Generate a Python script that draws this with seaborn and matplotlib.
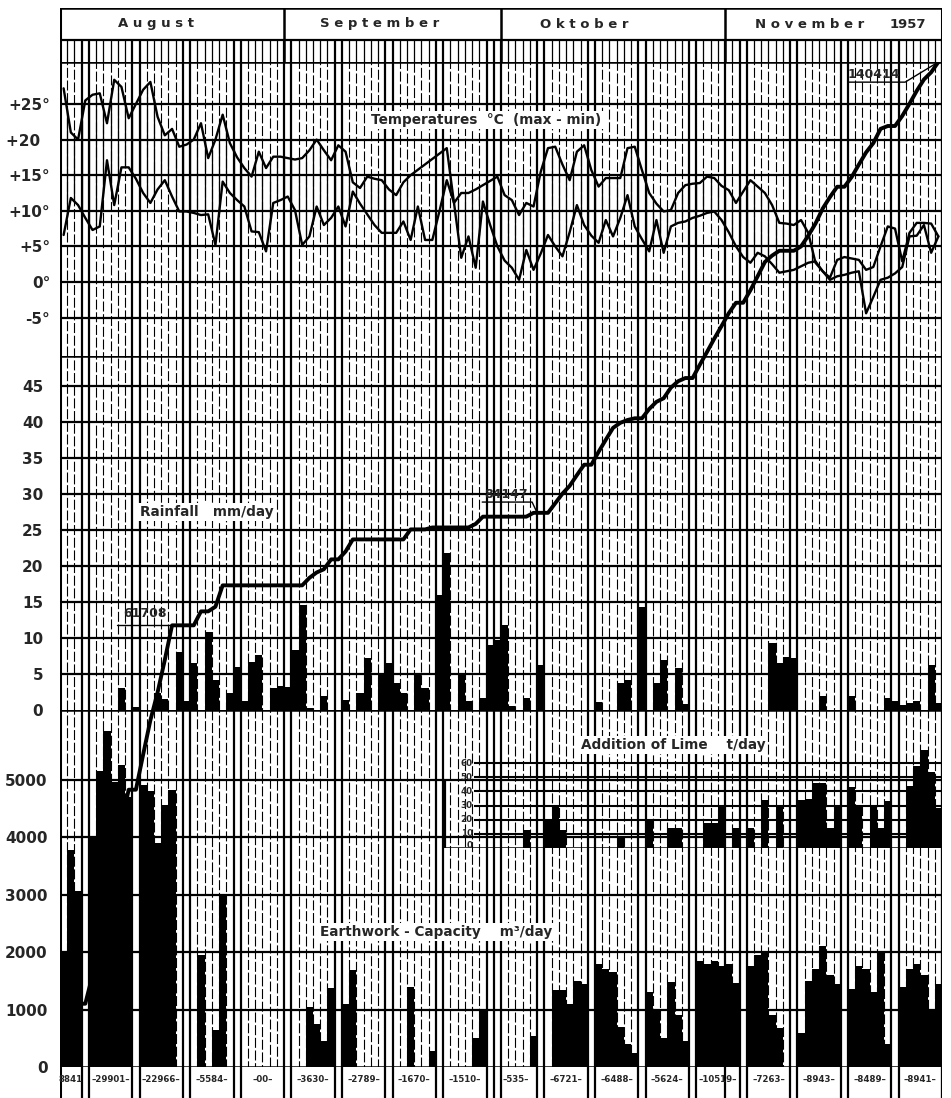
import numpy as np
import pandas as pd
import matplotlib
matplotlib.use("Agg")
import matplotlib.pyplot as plt
import seaborn as sns

# ---------------------------------------------------------------- calendar
months = ["August", "September", "Oktober", "November"]
month_lengths = [31, 30, 31, 30]
year_text = "1957"
first_sunday = 3          # 4 Aug 1957 (0 = 1 Aug)

# ------------------------------------------------ daily temperatures (°C)
t_max = [27.2, 21.0, 20.0, 25.5, 26.3, 26.5, 22.3, 28.4, 27.4, 23.0,
         25.0, 27.0, 28.1, 23.2, 20.6, 21.5, 19.0, 19.3, 20.0, 22.3,
         17.4, 20.0, 23.5, 19.5, 17.5, 16.0, 14.8, 18.3, 16.0, 17.6,
         17.6, 17.4, 17.2, 17.4, 18.5, 20.0, 18.5, 17.1, 19.2, 18.3,
         14.0, 13.2, 14.8, 14.5, 14.3, 13.0, 12.2, 14.0, 15.0, np.nan,
         np.nan, np.nan, np.nan, 18.8, 11.1, 12.5, 12.5, 13.0, 13.6, 14.2,
         14.8, 12.2, 11.5, 9.4, 11.1, 10.6, 15.5, 18.8, 19.0, 16.5,
         14.3, 18.3, 19.2, 15.7, 13.4, 14.6, 14.6, 14.6, 18.8, 19.0,
         15.7, 12.5, 11.0, 9.9, 10.1, 12.5, 13.6, 13.8, 13.9, 14.8,
         14.6, 13.5, 12.9, 11.1, 12.7, 14.3, 13.4, 12.5, 10.8, 8.3,
         8.2, 8.0, 8.7, 6.9, 2.7, 1.5, 0.6, 3.1, 3.5, 3.3,
         3.1, 1.7, 2.1, 5.0, 7.8, 7.5, 2.9, 6.9, 8.3, 8.3,
         8.2, 6.4]
t_min = [6.6, 11.8, 10.8, 9.0, 7.3, 7.8, 17.1, 10.8, 16.1, 16.1,
         14.5, 12.5, 11.1, 13.0, 14.3, 12.0, 9.9, 9.9, 9.7, 9.4,
         9.5, 5.2, 14.1, 12.5, 11.5, 10.6, 7.1, 7.0, 4.3, 11.1,
         11.5, 12.0, 10.1, 5.2, 6.4, 10.6, 8.0, 9.0, 10.6, 7.8,
         12.7, 11.0, 9.5, 8.0, 6.9, 6.9, 6.9, 8.5, 5.9, 10.6,
         5.9, 5.9, 10.0, 14.3, 11.1, 3.4, 6.4, 2.0, 11.3, 8.0,
         5.0, 3.0, 2.0, 0.3, 4.5, 1.7, 4.0, 6.6, 5.0, 3.6,
         7.0, 10.8, 8.0, 6.5, 5.5, 8.7, 6.4, 9.0, 12.2, 7.8,
         6.0, 4.3, 8.7, 4.1, 7.8, 8.3, 8.5, 9.0, 9.3, 9.7,
         9.9, 8.7, 7.0, 5.0, 3.5, 2.7, 4.1, 3.6, 2.5, 1.3,
         1.5, 1.7, 2.2, 2.7, 2.9, 1.5, 0.3, 0.8, 1.0, 1.3,
         1.5, -4.4, -2.1, 0.3, 0.6, 1.2, 2.1, 6.4, 6.5, 8.0,
         4.1, 6.4]

# --------------------------------------------------- daily rainfall (mm)
rain_mm = [0, 0, 0, 0, 0, 0, 0, 0, 3.0, 0,
           0.4, 0, 0, 2.3, 1.5, 0, 8.0, 1.3, 6.6, 0,
           10.9, 4.2, 0, 2.3, 6.0, 1.3, 6.7, 7.6, 0, 3.0,
           3.4, 3.2, 8.3, 14.6, 0.3, 0, 2.0, 0, 0, 1.4,
           0, 2.3, 7.2, 0, 4.9, 6.5, 3.8, 2.3, 0, 5.1,
           3.0, 0, 16.0, 21.8, 0, 5.1, 1.3, 0, 1.6, 9.0,
           9.7, 11.8, 0.5, 0, 1.6, 0, 6.2, 0, 0, 0,
           0, 0, 0, 0, 1.1, 0, 0, 3.7, 4.2, 0,
           14.3, 0, 3.7, 6.9, 0, 5.8, 0.8, 0, 0, 0,
           0, 0, 0, 0, 0, 0, 0, 0, 9.3, 6.5,
           7.4, 7.2, 0, 0, 0, 2.0, 0, 0, 0, 1.9,
           0, 0, 0, 0, 1.6, 1.3, 0.7, 1.0, 1.2, 0,
           6.2, 1.0]

# ----------------------------------------- daily earthwork output (m³)
earthwork_m3 = [2000, 3780, 3061, 0, 4000, 5150, 5850, 4950, 5250, 4701,
                0, 4900, 4800, 3900, 4550, 4816, 0, 0, 0, 1950,
                0, 650, 2984, 0, 0, 0, 0, 0, 0, 0,
                0, 0, 0, 0, 1050, 750, 450, 1380, 0, 1100,
                1689, 0, 0, 0, 0, 0, 0, 0, 1400, 0,
                0, 270, 0, 0, 0, 0, 0, 500, 1010, 0,
                0, 0, 0, 0, 0, 535, 0, 0, 1340, 1340,
                1090, 1500, 1451, 0, 1800, 1700, 1650, 700, 400, 238,
                0, 1300, 1000, 500, 1480, 900, 444, 0, 1850, 1800,
                1850, 1750, 1800, 1469, 0, 1750, 1950, 1990, 900, 673,
                0, 0, 600, 1500, 1700, 2100, 1600, 1443, 0, 1350,
                1750, 1700, 1300, 1989, 400, 0, 1400, 1700, 1800, 1600,
                1000, 1441]

# --------------------------------------------- daily lime addition (t)
lime_t = [0] * 64 + [13, 0, 0, 20, 29, 13, 0, 0, 0, 0,
                     0, 0, 0, 7, 0, 0, 0, 20, 0, 0,
                     14, 14, 0, 0, 0, 18, 18, 29, 0, 14,
                     0, 14, 0, 34, 0, 30, 0, 0, 34, 35,
                     46, 46, 14, 30, 0, 43, 29, 0, 29, 14,
                     33, 0, 0, 44, 58, 69, 54, 28]

# ---------------------------------------------------------------- setup
sns.set_theme(style="white")
plt.rcParams["font.family"] = ["DejaVu Sans"]
plt.rcParams["font.weight"] = "bold"

n_days = sum(month_lengths)
df = pd.DataFrame({
    "day": np.arange(n_days) + 0.5,
    "t_max": t_max, "t_min": t_min,
    "rain": rain_mm, "earth": earthwork_m3, "lime": lime_t[:n_days],
})
df["cumulative"] = df["earth"].cumsum()

W, H = 951, 1098
fig = plt.figure(figsize=(W / 100, H / 100), dpi=100)


def rect(x0, y0, x1, y1):
    return [x0 / W, 1 - y1 / H, (x1 - x0) / W, (y1 - y0) / H]


X0, X1 = 60, 942
Y_TOP, Y_T, Y_R, Y_E, Y_B = 8, 62, 356, 710, 1067

ax_h = fig.add_axes(rect(X0, Y_TOP, X1, Y_T))
ax_t = fig.add_axes(rect(X0, Y_T, X1, Y_R))
ax_r = fig.add_axes(rect(X0, Y_R, X1, Y_E))
ax_e = fig.add_axes(rect(X0, Y_E, X1, Y_B))
ax_w = fig.add_axes(rect(X0, Y_B, X1, H + 2))
ax_l = fig.add_axes(rect(X0, 749, X1, 848))
ax_c = fig.add_axes(rect(X0, Y_T, X1, Y_B))

for ax in (ax_h, ax_t, ax_r, ax_e, ax_w, ax_l, ax_c):
    ax.set_xlim(0, n_days)
    ax.set_facecolor("none")
    for s in ax.spines.values():
        s.set_visible(False)
    ax.set_xticks([])

sundays = list(range(first_sunday, n_days, 7))
month_edges = list(np.cumsum([0] + month_lengths))
heavy_x = sorted(set([e for s in sundays for e in (s, s + 1)]) | set(month_edges))
light_x = [d for d in range(n_days + 1) if d not in heavy_x]


def day_grid(ax, lo=0.0, hi=1.0):
    tr = ax.get_xaxis_transform()
    for k, d in enumerate(light_x):
        ax.vlines(d, lo, hi, transform=tr, colors="black", lw=0.8,
                  linestyles=[(k % 5 * 1.7, (9, 2.4))], zorder=1)
    ax.vlines(heavy_x, lo, hi, transform=tr, colors="black", lw=1.6, zorder=1)


def hlines(ax, values, lw=1.6):
    for v in values:
        ax.axhline(v, color="black", lw=lw, zorder=1)


# ------------------------------------------------------------ header
ax_h.set_ylim(54, 0)
ax_h.set_yticks([])
ax_h.axhline(0, color="black", lw=1.8)
ax_h.axhline(32, color="black", lw=1.6)
ax_h.vlines(month_edges, 0, 54, colors="black", lw=1.8)
ax_h.vlines(light_x, 32, 54, colors="black", lw=0.9)
ax_h.vlines(heavy_x, 32, 54, colors="black", lw=1.6)
month_text_start = [8.0, 36.0, 66.4, 96.1]
for name, x in zip(months, month_text_start):
    ax_h.text(x, 16, " ".join(name), fontsize=9.5, ha="left", va="center")
ax_h.text(114.8, 16, year_text, fontsize=9.5, ha="left", va="center")

# ------------------------------------------------------- temperatures
ax_t.set_ylim(-10.4, 30.9)
day_grid(ax_t)
hlines(ax_t, [25, 20, 15, 10, 5, 0, -5])
ax_t.axhline(30.9, color="black", lw=1.8)
t_ticks = [25, 20, 15, 10, 5, 0, -5]
t_labels = ["+25°", "+20  ", "+15°", "+10°", "+5°", "0°", "-5°"]
ax_t.set_yticks(t_ticks, t_labels)
# solid day lines between the daily minimum and maximum
tx, tn = df["t_max"].to_numpy(), df["t_min"].to_numpy()
for d in range(1, n_days):
    pair = tx[d - 1:d + 1]
    hi_v = np.nan if np.all(np.isnan(pair)) else np.nanmean(pair)
    lo_v = (tn[d - 1] + tn[d]) / 2
    if np.isfinite(hi_v) and np.isfinite(lo_v):
        ax_t.vlines(d, min(lo_v, hi_v), max(lo_v, hi_v), colors="black",
                    lw=0.9, zorder=2)
for col in ("t_max", "t_min"):
    sub = df[["day", col]].dropna()
    sns.lineplot(data=sub, x="day", y=col, ax=ax_t, color="black",
                 lw=1.7, errorbar=None, zorder=3)
ax_t.text(59.0, 22.75, "Temperatures  °C  (max - min)", fontsize=9.8,
          ha="center", va="center", zorder=5,
          bbox=dict(facecolor="white", edgecolor="none", pad=1.5))

# ----------------------------------------------------------- rainfall
ax_r.set_ylim(0, 49.2)
day_grid(ax_r)
hlines(ax_r, [5, 10, 15, 20, 25, 30, 35, 40, 45])
ax_r.axhline(49.2, color="black", lw=1.8)
ax_r.set_yticks(list(range(0, 50, 5)), [str(v) for v in range(0, 50, 5)])
sns.barplot(data=df, x="day", y="rain", native_scale=True, width=1.0,
            color="black", saturation=1, linewidth=0, errorbar=None,
            ax=ax_r, zorder=2)
ax_r.text(20.3, 27.5, "Rainfall   mm/day", fontsize=9.8, ha="center",
          va="center", zorder=5,
          bbox=dict(facecolor="white", edgecolor="none", pad=1.5))

# ---------------------------------------------------------- earthwork
ax_e.set_ylim(0, 6209)
day_grid(ax_e)
hlines(ax_e, [1000, 2000, 3000, 4000, 5000])
ax_e.axhline(0, color="black", lw=1.8)
ax_e.axhline(6209, color="black", lw=1.8)
ax_e.set_yticks(list(range(0, 6000, 1000)),
                [str(v) for v in range(0, 6000, 1000)])
sns.barplot(data=df, x="day", y="earth", native_scale=True, width=1.0,
            color="black", saturation=1, linewidth=0, errorbar=None,
            ax=ax_e, zorder=2)
ax_e.text(52.0, 2350, "Earthwork - Capacity    m³/day", fontsize=9.8,
          ha="center", va="center", zorder=5,
          bbox=dict(facecolor="white", edgecolor="none", pad=1.5))
ax_e.text(84.8, 5600, "Addition of Lime    t/day", fontsize=9.8,
          ha="center", va="center", zorder=5,
          bbox=dict(facecolor="white", edgecolor="none", pad=1.5))

# ------------------------------------------------------- lime (inset)
ax_l.set_ylim(0, 70)
ax_l.set_yticks([])
lime_left, grid_left = 53.25, 57.2
for v in range(10, 70, 10):
    ax_l.hlines(v, grid_left, n_days, colors="black", lw=1.5, zorder=1)
ax_l.hlines(0, lime_left, n_days, colors="black", lw=1.8, zorder=1)
ax_l.vlines(lime_left, 0, 49, colors="black", lw=1.6, zorder=1)
for v in range(0, 70, 10):
    ax_l.text(grid_left - 0.1, v + (1.8 if v == 0 else 0), str(v),
              fontsize=6.3, ha="right", va="center")
sns.barplot(data=df, x="day", y="lime", native_scale=True, width=1.0,
            color="black", saturation=1, linewidth=0, errorbar=None,
            ax=ax_l, zorder=2)

# ------------------------------------------ weekly totals (bottom row)
ax_w.set_ylim(0, 1)
ax_w.set_yticks([])
ax_w.vlines(heavy_x, 0, 1, colors="black", lw=1.6)
cell_edges = [0] + sundays + [n_days]
for a, b in zip(cell_edges[:-1], cell_edges[1:]):
    start = a if a == 0 else a + 1
    total = int(df["earth"].iloc[start:b].sum())
    txt = "00" if total == 0 else str(total)
    if b - start >= 5:
        txt = "–" + txt + "–"
    ax_w.text((start + b) / 2, 0.62, txt, fontsize=6.2, ha="center",
              va="center")

# --------------------------------------------- cumulative earthwork line
ax_c.set_ylim(0, 140414)
ax_c.set_yticks([])
sns.lineplot(data=df, x="day", y="cumulative", ax=ax_c, color="black",
             lw=2.8, errorbar=None)
cum = df["cumulative"].to_numpy()
milestones = [16, 72, n_days - 1]      # 17 Aug, 12 Oct, 30 Nov
v1, v2, v3 = (int(cum[i]) for i in milestones)
ax_c.plot([7.9, 15.5], [v1, v1], color="black", lw=1.0)
ax_c.text(11.8, v1 + 1700, f"{v1}", fontsize=9, ha="center", va="center")
ax_c.plot([58.4, 65.3, 66.0], [78930, 78930, cum[65]], color="black", lw=1.0)
ax_c.text(61.7, 80000, f"{v2}", fontsize=9, ha="center", va="center")
ax_c.plot([109.0, 116.9, n_days - 0.5], [137600, 137600, v3],
          color="black", lw=1.0)
ax_c.text(112.6, 138650, f"{v3}", fontsize=9, ha="center", va="center")

for ax in (ax_t, ax_r, ax_e):
    ax.tick_params(axis="y", length=0, labelsize=11)
    ax.set_xlabel("")
    ax.set_ylabel("")
ax_t.tick_params(axis="y", pad=7)
ax_r.tick_params(axis="y", pad=12)
ax_e.tick_params(axis="y", pad=9)
for ax in (ax_l, ax_c, ax_w, ax_h):
    ax.set_xlabel("")
    ax.set_ylabel("")

# outer frame
for ax in (ax_h, ax_t, ax_r, ax_e, ax_w):
    ax.axvline(0, color="black", lw=2.2)
    ax.axvline(n_days, color="black", lw=2.2)

fig.savefig("out.png", dpi=100, facecolor="white")
